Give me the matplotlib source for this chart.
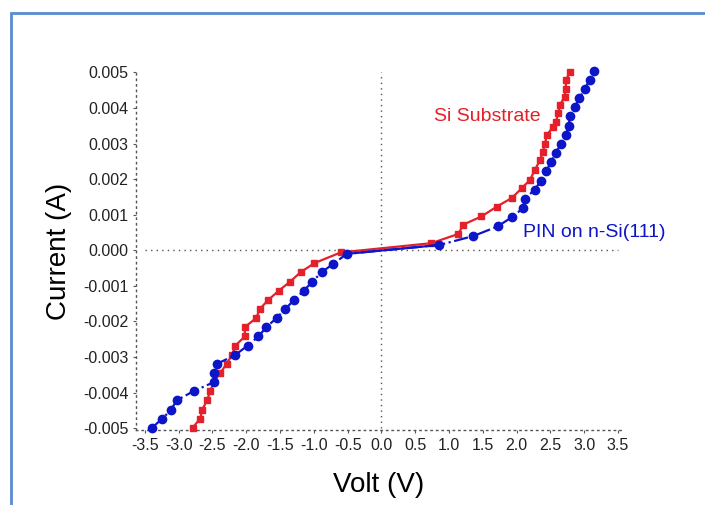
import matplotlib
matplotlib.use("Agg")
import matplotlib.pyplot as plt
from matplotlib.patches import Rectangle
from matplotlib.ticker import FuncFormatter

plt.rcParams['font.family'] = ['Liberation Sans', 'DejaVu Sans']
plt.rcParams['axes.unicode_minus'] = False

# Si Substrate (red squares): voltage (V), current (mA)
si_v = [-2.79, -2.68, -2.65, -2.58, -2.53, -2.48, -2.38, -2.29, -2.21, -2.16,
        -2.02, -2.02, -1.85, -1.80, -1.67, -1.52, -1.35, -1.19, -0.99, -0.60,
        0.74, 1.14, 1.21, 1.48, 1.71, 1.93, 2.08, 2.20, 2.27, 2.35,
        2.39, 2.42, 2.45, 2.54, 2.58, 2.62, 2.64, 2.71, 2.73, 2.73, 2.79]
si_i = [-4.98, -4.73, -4.48, -4.22, -3.95, -3.70, -3.44, -3.19, -2.94, -2.68,
        -2.42, -2.16, -1.90, -1.65, -1.39, -1.14, -0.88, -0.61, -0.36, -0.06,
        0.20, 0.46, 0.72, 0.95, 1.23, 1.47, 1.75, 1.98, 2.26, 2.54,
        2.77, 3.00, 3.24, 3.47, 3.61, 3.85, 4.08, 4.31, 4.54, 4.78, 5.01]

# PIN on n-Si(111) (blue circles): voltage (V), current (mA)
pin_v = [-3.39, -3.24, -3.11, -3.03, -2.77, -2.47, -2.47, -2.43, -2.16, -1.98,
         -1.82, -1.70, -1.55, -1.42, -1.29, -1.15, -1.02, -0.88, -0.71, -0.51,
         0.86, 1.36, 1.72, 1.93, 2.10, 2.12, 2.27, 2.36, 2.44, 2.51,
         2.58, 2.66, 2.73, 2.77, 2.79, 2.86, 2.93, 3.01, 3.08, 3.14]
pin_i = [-4.98, -4.73, -4.48, -4.22, -3.95, -3.70, -3.44, -3.19, -2.94, -2.68,
         -2.42, -2.16, -1.90, -1.65, -1.39, -1.14, -0.88, -0.61, -0.38, -0.10,
         0.15, 0.40, 0.67, 0.93, 1.19, 1.45, 1.70, 1.96, 2.22, 2.48,
         2.74, 2.99, 3.24, 3.50, 3.76, 4.02, 4.28, 4.53, 4.79, 5.03]

x_ticks = [-3.5, -3.0, -2.5, -2.0, -1.5, -1.0, -0.5, 0.0, 0.5, 1.0, 1.5, 2.0, 2.5, 3.0, 3.5]
y_ticks = [-0.005, -0.004, -0.003, -0.002, -0.001, 0.0, 0.001, 0.002, 0.003, 0.004, 0.005]

RED = '#e4202a'
BLUE = '#0c16c8'

fig = plt.figure(figsize=(7.05, 5.05), dpi=100)
fig.patch.set_facecolor('white')

# blue frame (left/top edge visible)
fig.patches.append(Rectangle((11 / 705, -0.1), 1.2, 1.1 - 13 / 505,
                             transform=fig.transFigure, fill=False,
                             edgecolor='#5b8bd0', linewidth=2.0))

ax = fig.add_axes([136 / 705, 75 / 505, 486 / 705, 358 / 505])
ax.set_xlim(-3.63, 3.56)
ax.set_ylim(-0.00505, 0.00501)

# zero reference lines
ax.plot([-3.5, 3.5], [0, 0], color='#555555', linestyle=(0, (1, 3)), linewidth=1.0)
ax.plot([0, 0], [-0.005, 0.005], color='#555555', linestyle=(0, (1, 3)), linewidth=1.0)

si_a = [v / 1000 for v in si_i]
pin_a = [v / 1000 for v in pin_i]

ax.plot(si_v, si_a, color=RED, marker='s', markersize=5,
        linestyle='-', linewidth=1.6, clip_on=False, zorder=3)
ax.plot(pin_v, pin_a, color=BLUE, marker='o', markersize=6,
        linestyle='-.', linewidth=1.6, clip_on=False, zorder=4)
# solid blue segment across the origin region
ax.plot(pin_v[19:21], pin_a[19:21], color=BLUE, linestyle='-', linewidth=1.6, zorder=4)

ax.text(0.78, 0.00376, 'Si Substrate', color=RED, fontsize=14, va='center', ha='left')
ax.text(2.10, 0.00050, 'PIN on n-Si(111)', color=BLUE, fontsize=14, va='center', ha='left')

for s in ['top', 'right']:
    ax.spines[s].set_visible(False)
for s in ['left', 'bottom']:
    ax.spines[s].set_linestyle((0, (1, 3)))
    ax.spines[s].set_color('#555555')
    ax.spines[s].set_linewidth(1.0)

ax.set_xticks(x_ticks)
ax.set_yticks(y_ticks)
ax.xaxis.set_major_formatter(FuncFormatter(lambda v, p: f'{v:.1f}'))
ax.yaxis.set_major_formatter(FuncFormatter(lambda v, p: f'{v:.3f}'))
ax.tick_params(axis='both', labelsize=11.5, length=2.5, width=0.8, color='#555555',
               labelcolor='#222222')
ax.tick_params(axis='x', pad=3)
ax.tick_params(axis='y', pad=3)

ax.set_xlabel('Volt (V)', fontsize=20)
ax.set_ylabel('Current (A)', fontsize=20)
ax.xaxis.set_label_coords(0.5, -0.118)
ax.yaxis.set_label_coords(-0.132, 0.5)

fig.savefig('out.png', dpi=100, facecolor='white')
